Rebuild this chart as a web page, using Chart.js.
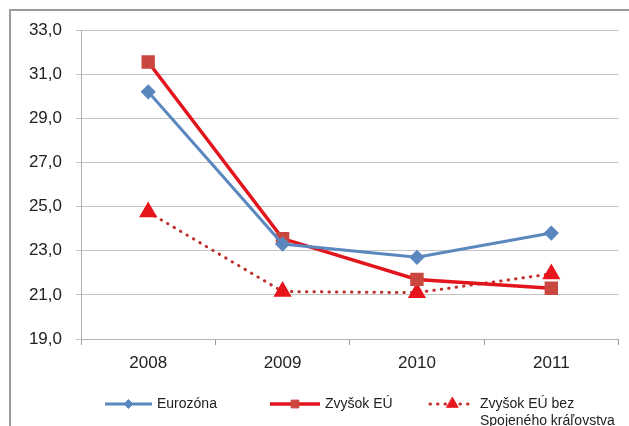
<!DOCTYPE html>
<html>
<head>
<meta charset="utf-8">
<script src="https://cdn.jsdelivr.net/npm/chart.js@4/dist/chart.umd.min.js"></script>
<style>
  html, body { margin: 0; padding: 0; background: #fff; }
  #wrap { width: 629px; height: 426px; }
</style>
</head>
<body>
<div id="wrap"><canvas id="graf" width="629" height="426"></canvas></div>
<script>
const roky = ['2008', '2009', '2010', '2011'];
const eurozona = [30.2, 23.3, 22.7, 23.8];
const zvysokEU = [31.55, 23.55, 21.7, 21.3];
const bezUK = [24.75, 21.15, 21.1, 21.95];
const nazvy = ['Eurozóna', 'Zvyšok EÚ', ['Zvyšok EÚ bez', 'Spojeného kráľovstva']];

const pismo = '"Liberation Sans", Arial, sans-serif';

// ramik okolo grafu + legenda dole
const ramikALegenda = {
  id: 'ramikALegenda',
  beforeDraw(chart) {
    const c = chart.ctx;
    c.save();
    c.strokeStyle = '#9a9a9a';
    c.lineWidth = 2;
    c.beginPath();
    c.moveTo(10, 426);
    c.lineTo(10, 10);
    c.lineTo(629, 10);
    c.stroke();
    c.restore();
  },
  afterDraw(chart) {
    const c = chart.ctx;
    const polozky = [
      { x0: 105, x1: 152, tx: 157, r: 4.5 },
      { x0: 270, x1: 320, tx: 325, r: 5.5 },
      { x0: 430, x1: 475, tx: 480, r: 6.5 }
    ];
    const y = 404;
    c.save();
    chart.data.datasets.forEach((ds, i) => {
      const p = polozky[i];
      c.strokeStyle = ds.borderColor;
      c.lineWidth = ds.borderWidth;
      c.lineCap = ds.borderCapStyle || 'butt';
      c.setLineDash(ds.borderDash || []);
      c.beginPath();
      c.moveTo(p.x0, y);
      c.lineTo(p.x1, y);
      c.stroke();
      c.setLineDash([]);
      c.fillStyle = ds.pointBackgroundColor;
      c.strokeStyle = ds.pointBorderColor;
      c.lineWidth = 1;
      Chart.helpers.drawPoint(c, {
        pointStyle: ds.pointStyle,
        radius: p.r,
        borderWidth: 1
      }, (p.x0 + p.x1) / 2, y);
      c.fillStyle = '#222';
      c.font = '14px ' + pismo;
      c.textBaseline = 'middle';
      const riadky = [].concat(nazvy[i]);
      riadky.forEach((t, k) => c.fillText(t, p.tx, y + k * 17));
    });
    c.restore();
  }
};

new Chart(document.getElementById('graf'), {
  type: 'line',
  data: {
    labels: roky,
    datasets: [
      {
        label: 'Eurozóna',
        data: eurozona,
        borderColor: '#5b87bf',
        borderWidth: 3,
        pointStyle: 'rectRot',
        pointRadius: 5.5,
        pointBackgroundColor: '#5b87bf',
        pointBorderColor: '#5b87bf',
        tension: 0
      },
      {
        label: 'Zvyšok EÚ',
        data: zvysokEU,
        borderColor: '#e2141c',
        borderWidth: 3.5,
        pointStyle: 'rect',
        pointRadius: 7,
        pointBackgroundColor: '#c9473f',
        pointBorderColor: '#c9473f',
        tension: 0
      },
      {
        label: 'Zvyšok EÚ bez Spojeného kráľovstva',
        data: bezUK,
        borderColor: '#c0302c',
        borderWidth: 3,
        borderDash: [0.5, 7],
        borderCapStyle: 'round',
        pointStyle: 'triangle',
        pointRadius: 7.5,
        pointBackgroundColor: '#e8141c',
        pointBorderColor: '#e8141c',
        tension: 0
      }
    ]
  },
  options: {
    responsive: false,
    animation: false,
    layout: { padding: { left: 0, right: 10, top: 30, bottom: 0 } },
    plugins: {
      legend: { display: false },
      tooltip: { enabled: false }
    },
    scales: {
      x: {
        offset: true,
        grid: { drawOnChartArea: false, drawTicks: true, tickLength: 6, color: '#9a9a9a', offset: true },
        border: { display: true, color: '#b0b0b0', width: 1 },
        ticks: { color: '#222', font: { family: pismo, size: 17 }, padding: 8 },
        afterFit(s) { s.height = 87; }
      },
      y: {
        min: 19,
        max: 33,
        ticks: {
          stepSize: 2,
          color: '#222',
          font: { family: pismo, size: 17 },
          padding: 14,
          callback: v => v.toFixed(1).replace('.', ',')
        },
        grid: { color: '#c4c4c4', lineWidth: 1, tickLength: 5 },
        border: { display: true, color: '#b0b0b0' },
        afterFit(s) { s.width = 81; }
      }
    }
  },
  plugins: [ramikALegenda]
});
</script>
</body>
</html>
